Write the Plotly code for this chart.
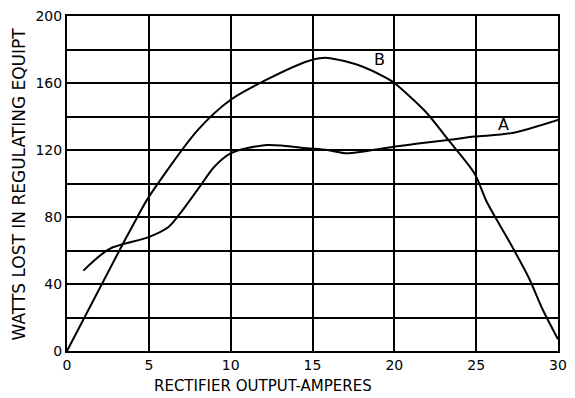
import plotly.graph_objects as go

# Curve A: watts lost vs rectifier output current
amps_a = [1.0, 2.6, 5.0, 6.2, 6.9, 8.1, 9.0, 10.0, 12.2, 14.7, 15.9, 17.1, 18.0, 20.0, 23.3, 24.9, 27.1, 30.0]
watts_a = [48, 61, 68, 74, 82, 98, 110, 118, 123, 121, 120, 118, 119, 122, 126, 128, 130, 138]

# Curve B
amps_b = [0.0, 3.2, 4.3, 5.0, 8.0, 10.0, 12.2, 14.7, 15.9, 18.0, 19.5, 20.0, 21.9, 23.3, 24.9, 25.6, 26.1, 27.1, 28.2, 29.1, 30.0]
watts_b = [0, 60, 80, 92, 132, 150, 162, 173, 175, 170, 163, 160, 143, 126, 106, 90, 81, 64, 44, 24, 7]

x_ticks = [0, 5, 10, 15, 20, 25, 30]
y_grid = [0, 20, 40, 60, 80, 100, 120, 140, 160, 180, 200]
y_labels = ["0", "", "40", "", "80", "", "120", "", "160", "", "200"]

FONT = "DejaVu Sans, sans-serif"

fig = go.Figure()
for xs, ys in [(amps_a, watts_a), (amps_b, watts_b)]:
    fig.add_trace(go.Scatter(
        x=xs, y=ys, mode="lines",
        line=dict(color="black", width=2, shape="spline", smoothing=0.8),
        showlegend=False, hoverinfo="skip",
    ))

fig.update_layout(
    width=575, height=398,
    margin=dict(l=67, r=8, t=16, b=47),
    paper_bgcolor="white", plot_bgcolor="white",
    font=dict(family=FONT, color="black", size=13),
    xaxis=dict(
        range=[0, 30], tickvals=x_ticks, ticks="", showgrid=True,
        gridcolor="black", gridwidth=2, zeroline=False,
        showline=True, linecolor="black", linewidth=2, mirror=True,
        tickfont=dict(size=14, family=FONT),
    ),
    yaxis=dict(
        range=[0, 200], tickvals=y_grid, ticktext=y_labels, ticks="",
        showgrid=True, gridcolor="black", gridwidth=2, zeroline=False,
        showline=True, linecolor="black", linewidth=2, mirror=True,
        tickfont=dict(size=14, family=FONT),
    ),
    annotations=[
        dict(text="RECTIFIER OUTPUT-AMPERES", xref="paper", yref="paper",
             x=(267 - 67) / 500, y=-35 / 335, xanchor="center", yanchor="middle",
             showarrow=False, font=dict(size=15, family=FONT)),
        dict(text="WATTS LOST IN REGULATING EQUIPT", xref="paper", yref="paper",
             x=(18 - 67) / 500, y=0.5, xanchor="center", yanchor="middle",
             textangle=-90, showarrow=False, font=dict(size=17, family=FONT)),
        dict(text="B", x=19.1, y=174, showarrow=False,
             font=dict(size=16, family=FONT)),
        dict(text="A", x=26.7, y=135, showarrow=False,
             font=dict(size=16, family=FONT)),
    ],
)

fig.write_html("out.html")
